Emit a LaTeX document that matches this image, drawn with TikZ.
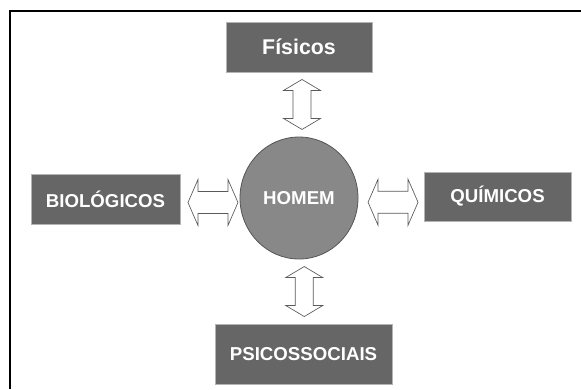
\documentclass[tikz,border=0pt]{standalone}
\usepackage{fontspec}
\setmainfont{Liberation Sans}
\usetikzlibrary{shapes.geometric,calc}
\definecolor{boxfill}{HTML}{666666}
\definecolor{boxedge}{HTML}{B4B4B4}
\definecolor{manfill}{HTML}{888888}
\definecolor{manedge}{HTML}{555555}
\definecolor{linkedge}{HTML}{5A5A5A}
\tikzset{
  factor/.style ={draw=boxedge, fill=boxfill, text=white, line width=0.5pt,
                  inner sep=0pt, font=\fontsize{14}{16}\selectfont\bfseries},
  man/.style    ={ellipse, draw=manedge, fill=manfill, text=white,
                  line width=0.6pt, inner sep=0pt,
                  minimum width=88.5pt, minimum height=91.5pt,
                  font=\fontsize{14}{16}\selectfont\bfseries},
  link/.style   ={draw=linkedge, fill=white, line width=0.5pt, line join=miter},
  % two-way block arrow: head span / shaft / head length
  pics/biarrow/.style n args={3}{code={
    \draw[link] (-25,0) -- (-25+#3,-#1/2) -- (-25+#3,-#2/2) -- (25-#3,-#2/2)
      -- (25-#3,-#1/2) -- (25,0) -- (25-#3,#1/2) -- (25-#3,#2/2)
      -- (-25+#3,#2/2) -- (-25+#3,#1/2) -- cycle;
  }},
}
\begin{document}
\begin{tikzpicture}[x=0.75pt, y=-0.75pt]
    \useasboundingbox (0,0) rectangle (581,389);
    % frame (runs off the page)
    \draw[line width=1.5pt] (10,389) -- (10,11) -- (581,11);
    % the man
    \node[man] (homem) at (299,198) {HOMEM};
    % factors
    \node[factor, minimum width=109.5pt, minimum height=37.5pt,
          font=\fontsize{16}{18}\selectfont\bfseries]              (fis) at (299,47)    {Físicos};
    \node[factor, minimum width=111.75pt, minimum height=37.5pt] (bio) at (105.5,199) {BIOLÓGICOS};
    \node[factor, minimum width=110.25pt, minimum height=36.75pt] (qui) at (497.5,196.5) {QUÍMICOS};
    \node[factor, minimum width=132.75pt, minimum height=45pt]   (psi) at (303.5,354) {PSICOSSOCIAIS};
    % links
    \pic[rotate=90] (l1) at ($(fis.south)!0.5!(homem.north)+(3,0)$) {biarrow={37}{18}{11}};
    \pic[rotate=90] (l2) at ($(homem.south)!0.5!(psi.north)+(3,0)$) {biarrow={37}{18}{11}};
    \pic (l3) at ($(bio.east)!0.5!(homem.west)+(3,4)$) {biarrow={46}{22}{10}};
    \pic (l4) at ($(homem.east)!0.5!(qui.west)+(2,5)$) {biarrow={46}{22}{10}};
\end{tikzpicture}
\end{document}
